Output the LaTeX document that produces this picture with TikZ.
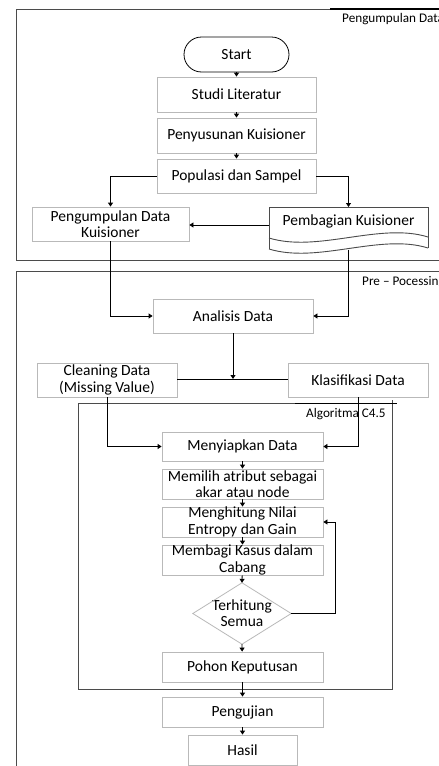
\documentclass[tikz,border=0pt]{standalone}
\usepackage{fontspec}
\setmainfont{Carlito}
\usetikzlibrary{arrows.meta}
\definecolor{boxgray}{RGB}{185,185,185}
\definecolor{framegray}{RGB}{75,75,75}
\begin{document}
\begin{tikzpicture}[x=1pt,y=-1pt,
  box/.style={draw=boxgray, line width=0.8pt, minimum width=161pt, minimum height=30pt,
    inner sep=0pt, align=center, font=\fontsize{15.5}{16.3}\selectfont},
  plain/.style={inner sep=0pt, align=center, font=\fontsize{15.5}{16.3}\selectfont},
  framelbl/.style={inner sep=0pt, anchor=west, font=\fontsize{13.2}{15}\selectfont},
  frameline/.style={draw=framegray, line width=1pt},
  conn/.style={draw=black, line width=0.8pt},
  arr/.style={conn, -{Triangle[width=5pt,length=4pt]}}
]
\useasboundingbox (0,0) rectangle (439,766);
\clip (0,0) rectangle (439,766);
\fill[white] (0,0) rectangle (439,766);

% ---------- frames ----------
\draw[frameline] (439,9) -- (16,9) -- (16,260) -- (439,260);
\draw[draw=black, line width=1.1pt] (330,9) -- (439,9);
\draw[frameline] (439,271) -- (16,271) -- (16,766);
\draw[frameline] (78,403) rectangle (392,689);
\draw[frameline] (392,400) -- (392,403);
\draw[draw=black, line width=1pt] (295,403) -- (397,403);
\node[framelbl] (lbl1) at (342,19) {Pengumpulan Data};
\node[framelbl] (lbl2) at (362,282) {Pre -- Pocessing};
\node[framelbl] (lbl3) at (306,414) {Algoritma C4.5};

% ---------- top section ----------
\node[box, draw=black, minimum width=105pt, minimum height=35pt, rounded corners=17.5pt] (start) at (236.5,54.5) {Start};
\node[box, minimum width=159pt, minimum height=35pt] (studi) at (236.5,94.5) {Studi Literatur};
\node[box, minimum width=159pt, minimum height=35pt] (susun) at (236.5,135.5) {Penyusunan Kuisioner};
\node[box, minimum width=159pt, minimum height=34pt] (pop) at (236.5,176) {Populasi dan Sampel};
\node[box, minimum width=157pt, minimum height=34pt] (pengdk) at (110.5,224) {Pengumpulan Data\\Kuisioner};

% document shape (Pembagian Kuisioner)
\draw[draw=framegray, line width=0.9pt] (269,249) -- (269,207) -- (428,207) -- (428,248);
\draw[draw=framegray, line width=0.9pt] (269,238) .. controls (318,253) and (380,222) .. (428,237);
\draw[draw=framegray, line width=0.9pt] (269,249) .. controls (318,264) and (380,233) .. (428,248);
\node[plain] (bagi) at (348.5,221) {Pembagian Kuisioner};
\coordinate (bagiT) at (348.5,207);
\coordinate (bagiL) at (269,225);
\coordinate (bagiB) at (348.5,250);

\draw[arr] (start) -- (studi);
\draw[arr] (studi) -- (susun);
\draw[arr] (susun) -- (pop);
\draw[arr] (pop.west) -| (pengdk.north);
\draw[arr] (pop.east) -| (bagiT);
\draw[arr] (bagiL) -- (pengdk.east |- bagiL);

% ---------- pre-processing ----------
\node[box, minimum width=160pt, minimum height=34pt] (analisis) at (233,316) {Analisis Data};
\node[box, minimum width=140pt, minimum height=34pt] (clean) at (107,380) {Cleaning Data\\(Missing Value)};
\node[box, minimum width=140pt, minimum height=34pt] (klas) at (358,380) {Klasifikasi Data};
\coordinate (jn) at (233,379);

\draw[arr] (pengdk.south) |- (analisis.west);
\draw[arr] (bagiB) |- (analisis.east);
\draw[arr] (analisis.south) -- (jn);
\draw[conn] (clean.east |- jn) -- (klas.west |- jn);

% ---------- algoritma C4.5 ----------
\node[box, minimum height=29pt] (siap) at (242.5,446.5) {Menyiapkan Data};
\node[box] (pilih) at (242.5,484) {Memilih atribut sebagai\\akar atau node};
\node[box] (hitung) at (242.5,522) {Menghitung Nilai\\Entropy dan Gain};
\node[box] (bagik) at (242.5,560) {Membagi Kasus dalam\\Cabang};
\node[plain, minimum width=98pt, minimum height=61pt] (dia) at (242,613.5) {Terhitung\\Semua};
\draw[draw=boxgray, line width=0.8pt] (dia.north) -- (dia.east) -- (dia.south) -- (dia.west) -- cycle;
\node[box] (pohon) at (242.5,667) {Pohon Keputusan};
\node[box] (uji) at (242.5,712) {Pengujian};
\node[box, minimum width=109pt] (hasil) at (242.5,750) {Hasil};
\coordinate (loop) at (335,613.5);

\draw[arr] (clean.south) |- (siap.west);
\draw[arr] (klas.south) |- (siap.east);
\draw[arr] (siap) -- (pilih);
\draw[arr] (pilih) -- (hitung);
\draw[arr] (hitung) -- (bagik);
\draw[arr] (bagik) -- (dia.north);
\draw[arr] (dia.east) -- (loop) |- (hitung.east);
\draw[arr] (dia.south) -- (pohon);
\draw[arr] (pohon) -- (uji);
\draw[arr] (uji) -- (hasil);
\end{tikzpicture}
\end{document}
